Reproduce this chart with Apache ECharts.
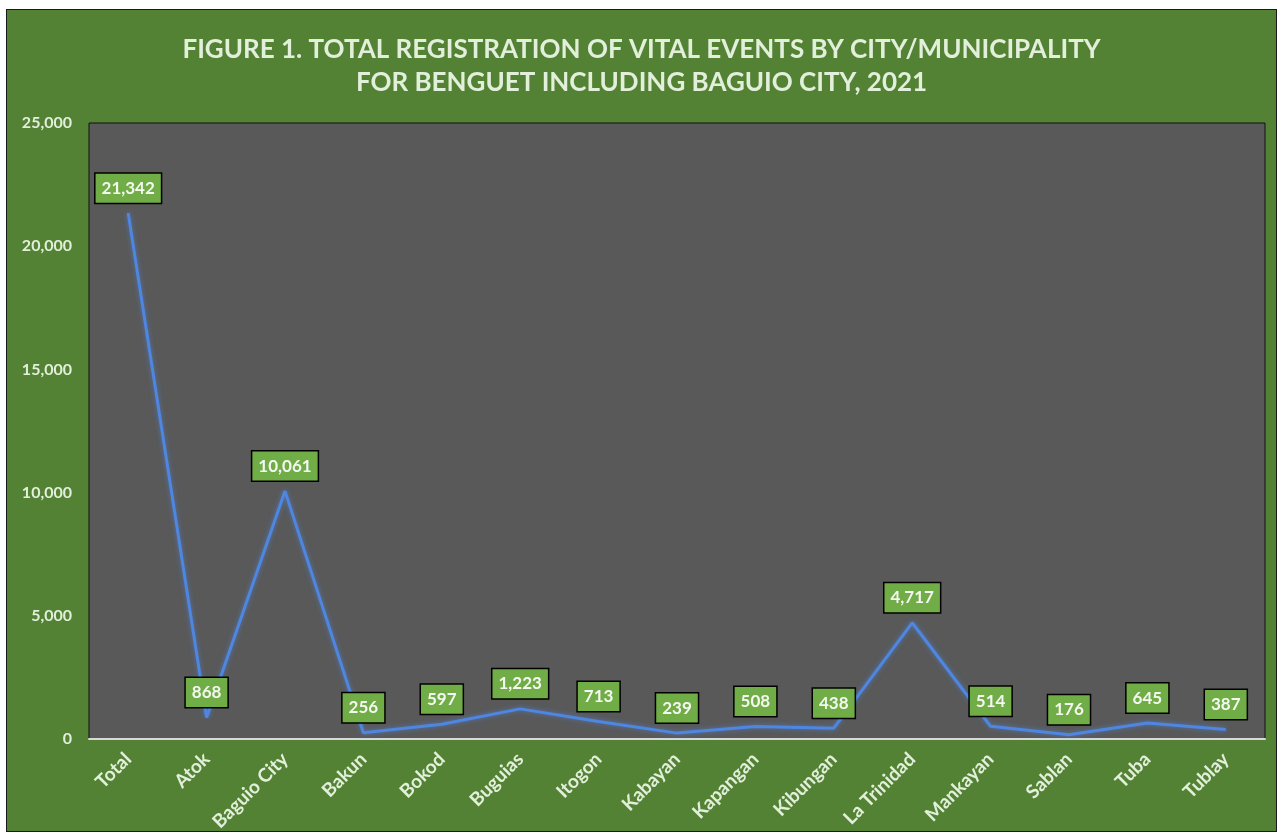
<!DOCTYPE html>
<html>
<head>
<meta charset="utf-8">
<script src="https://cdn.jsdelivr.net/npm/echarts@6/dist/echarts.min.js"></script>
<style>
  html, body { margin: 0; padding: 0; background: #ffffff; }
  #chart {
    position: absolute; left: 6px; top: 9px;
    width: 1269px; height: 821px;
    border: 1px solid #1a1a1a;
  }
</style>
</head>
<body>
<div id="chart"></div>
<script>
// values
const cities = ['Total', 'Atok', 'Baguio City', 'Bakun', 'Bokod', 'Buguias', 'Itogon', 'Kabayan',
    'Kapangan', 'Kibungan', 'La Trinidad', 'Mankayan', 'Sablan', 'Tuba', 'Tublay'];
const registrations = [21342, 868, 10061, 256, 597, 1223, 713, 239, 508, 438, 4717, 514, 176, 645, 387];
const yTicks = [0, 5000, 10000, 15000, 20000, 25000];

const lightText = '#e2efda';
const fontFam = 'Lato, "Open Sans", sans-serif';

const myChart = echarts.init(document.getElementById('chart'));

const option = {
    backgroundColor: '#548235',
    textStyle: { fontFamily: fontFam },
    title: {
        text: 'FIGURE 1. TOTAL REGISTRATION OF VITAL EVENTS BY CITY/MUNICIPALITY\nFOR BENGUET INCLUDING BAGUIO CITY, 2021',
        left: 'center',
        top: 18,
        textStyle: {
            color: lightText,
            fontSize: 26,
            fontWeight: 'bold',
            lineHeight: 33,
            fontFamily: fontFam
        }
    },
    grid: {
        left: 82, top: 113, right: 11, bottom: 92,
        outerBoundsMode: 'none',
        containLabel: false,
        show: true,
        backgroundColor: '#595959',
        borderColor: '#111111',
        borderWidth: 1
    },
    xAxis: {
        type: 'category',
        data: cities,
        boundaryGap: true,
        axisLine: { show: true, lineStyle: { color: '#d9d9d9', width: 2 } },
        axisTick: { show: false },
        axisLabel: {
            rotate: 45,
            interval: 0,
            margin: 17,
            color: lightText,
            fontSize: 19,
            fontWeight: 'bold',
            fontFamily: fontFam
        }
    },
    yAxis: {
        type: 'value',
        min: yTicks[0],
        max: yTicks[yTicks.length - 1],
        interval: 5000,
        splitLine: { show: false },
        axisLine: { show: false },
        axisTick: { show: false },
        axisLabel: {
            margin: 17,
            color: lightText,
            fontSize: 16,
            fontWeight: 'bold',
            fontFamily: fontFam,
            formatter: v => v.toLocaleString('en-US')
        }
    },
    series: [{
        type: 'line',
        data: registrations,
        showSymbol: true,
        symbol: 'circle',
        symbolSize: 1,
        itemStyle: { color: 'rgba(0,0,0,0)' },
        lineStyle: {
            color: '#4f86e0',
            width: 3,
            shadowColor: 'rgba(79,134,224,0.7)',
            shadowBlur: 5
        },
        label: {
            show: true,
            position: 'top',
            distance: 10,
            color: '#f4f8f0',
            fontSize: 17,
            fontWeight: 'bold',
            fontFamily: fontFam,
            backgroundColor: '#70ad47',
            borderColor: '#000000',
            borderWidth: 1.5,
            padding: [6, 6, 6, 6],
            formatter: p => p.value.toLocaleString('en-US')
        },
        labelLayout: { hideOverlap: false }
    }]
};

myChart.setOption(option);
</script>
</body>
</html>
